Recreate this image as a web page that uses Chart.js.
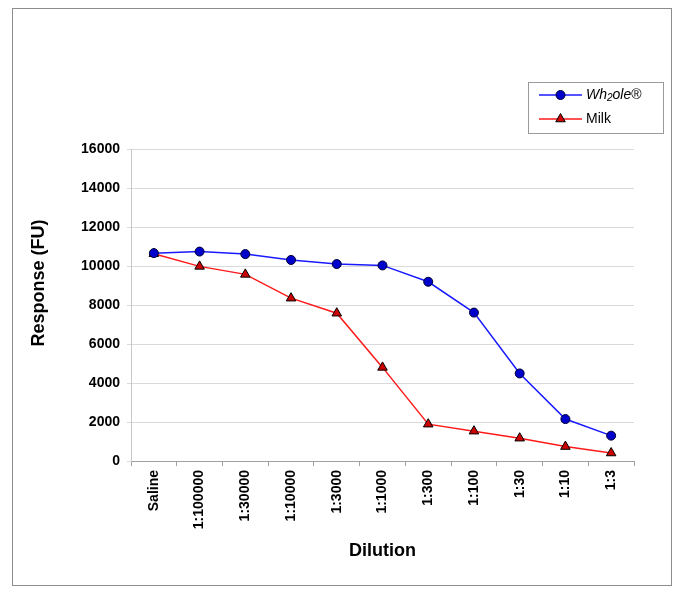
<!DOCTYPE html>
<html>
<head>
<meta charset="utf-8">
<script src="https://cdn.jsdelivr.net/npm/chart.js@4/dist/chart.umd.min.js"></script>
<style>
  html, body { margin: 0; padding: 0; background: #fff; }
  canvas { display: block; }
</style>
</head>
<body>
<canvas id="c" width="685" height="597"></canvas>
<script>
const categories = ['Saline', '1:100000', '1:30000', '1:10000', '1:3000', '1:1000', '1:300', '1:100', '1:30', '1:10', '1:3'];
const wh2oleValues = [10660, 10740, 10610, 10310, 10100, 10030, 9190, 7610, 4490, 2150, 1300];
const milkValues = [10630, 9980, 9570, 8350, 7580, 4800, 1890, 1530, 1170, 740, 410];
const seriesNames = ['Wh\u2082ole\u00AE', 'Milk'];
const yMin = 0, yMax = 16000, yStep = 2000;
const xTitle = 'Dilution';
const yTitle = 'Response (FU)';

const FONT = '"Liberation Sans", Arial, Helvetica, sans-serif';

const framePlugin = {
  id: 'frame',
  beforeDraw(chart) {
    const c = chart.ctx;
    c.save();
    c.fillStyle = '#ffffff';
    c.fillRect(0, 0, chart.width, chart.height);
    c.strokeStyle = '#8c8c8c';
    c.lineWidth = 1;
    c.strokeRect(12.5, 8.5, 659, 577);
    c.restore();
  }
};

const legendAndTitlePlugin = {
  id: 'customLegend',
  afterDraw(chart) {
    const c = chart.ctx;
    c.save();
    // y axis title
    c.save();
    c.translate(39, 283);
    c.rotate(-Math.PI / 2);
    c.font = 'bold 18px ' + FONT;
    c.fillStyle = '#000';
    c.textAlign = 'center';
    c.textBaseline = 'middle';
    c.fillText(yTitle, 0, 0);
    c.restore();

    // legend box
    c.strokeStyle = '#9a9a9a';
    c.lineWidth = 1;
    c.strokeRect(528.5, 82.5, 135, 51);
    chart.data.datasets.forEach((ds, i) => {
      const y = 95 + i * 24;
      c.strokeStyle = ds.borderColor;
      c.lineWidth = ds.borderWidth;
      c.beginPath();
      c.moveTo(539, y);
      c.lineTo(582, y);
      c.stroke();
      c.fillStyle = ds.pointBackgroundColor;
      c.strokeStyle = ds.pointBorderColor;
      c.lineWidth = ds.pointBorderWidth;
      Chart.helpers.drawPoint(c, { pointStyle: ds.pointStyle, radius: ds.pointRadius, rotation: 0, borderWidth: ds.pointBorderWidth }, 560.5, y);
      c.fillStyle = '#000';
      c.textBaseline = 'middle';
      c.textAlign = 'left';
      let x = 586;
      let segs;
      if (i === 0) {
        const label = ds.label;
        segs = [
          { t: label.slice(0, 2), f: 'italic 14px ' + FONT, dy: 0 },
          { t: '2', f: 'italic 10px ' + FONT, dy: 3 },
          { t: label.slice(3, 6), f: 'italic 14px ' + FONT, dy: 0 },
          { t: label.slice(6), f: '14px ' + FONT, dy: 0 }
        ];
      } else {
        segs = [{ t: ds.label, f: '14px ' + FONT, dy: 0 }];
      }
      segs.forEach(s => {
        c.font = s.f;
        c.fillText(s.t, x, y + s.dy);
        x += c.measureText(s.t).width;
      });
    });
    c.restore();
  }
};

new Chart(document.getElementById('c'), {
  type: 'line',
  data: {
    labels: categories,
    datasets: [
      {
        label: seriesNames[0],
        data: wh2oleValues,
        borderColor: '#1a1aff',
        borderWidth: 1.5,
        backgroundColor: '#0000cc',
        pointStyle: 'circle',
        pointRadius: 4.5,
        pointBackgroundColor: '#0000cc',
        pointBorderColor: '#000033',
        pointBorderWidth: 1,
        tension: 0
      },
      {
        label: seriesNames[1],
        data: milkValues,
        borderColor: '#ff1a1a',
        borderWidth: 1.5,
        backgroundColor: '#cc0000',
        pointStyle: 'triangle',
        pointRadius: 5.5,
        pointBackgroundColor: '#cc0000',
        pointBorderColor: '#000000',
        pointBorderWidth: 1,
        tension: 0
      }
    ]
  },
  options: {
    responsive: false,
    animation: false,
    devicePixelRatio: 1,
    layout: { padding: { top: 149, right: 51, left: 0, bottom: 0 } },
    plugins: {
      legend: { display: false },
      tooltip: { enabled: false },
      title: { display: false }
    },
    scales: {
      x: {
        type: 'category',
        offset: true,
        afterFit(scale) { scale.height = 136; },
        grid: {
          drawOnChartArea: false,
          drawTicks: true,
          offset: true,
          tickLength: 5,
          color: '#a0a0a0'
        },
        border: { display: true, color: '#a0a0a0', width: 1 },
        ticks: {
          autoSkip: false,
          minRotation: 90,
          maxRotation: 90,
          padding: 4,
          color: '#000',
          font: { family: FONT, size: 14, weight: 'bold' }
        },
        title: {
          display: true,
          text: xTitle,
          color: '#000',
          font: { family: FONT, size: 18, weight: 'bold' },
          padding: { top: 4, bottom: 35 }
        }
      },
      y: {
        min: yMin,
        max: yMax,
        afterFit(scale) { scale.width = 131; },
        grid: {
          color: '#d9d9d9',
          tickLength: 4,
          drawTicks: true
        },
        border: { display: true, color: '#c8c8c8', width: 1 },
        ticks: {
          stepSize: yStep,
          padding: 7,
          color: '#000',
          font: { family: FONT, size: 14, weight: 'bold' },
          callback: v => String(v)
        }
      }
    }
  },
  plugins: [framePlugin, legendAndTitlePlugin]
});
</script>
</body>
</html>
